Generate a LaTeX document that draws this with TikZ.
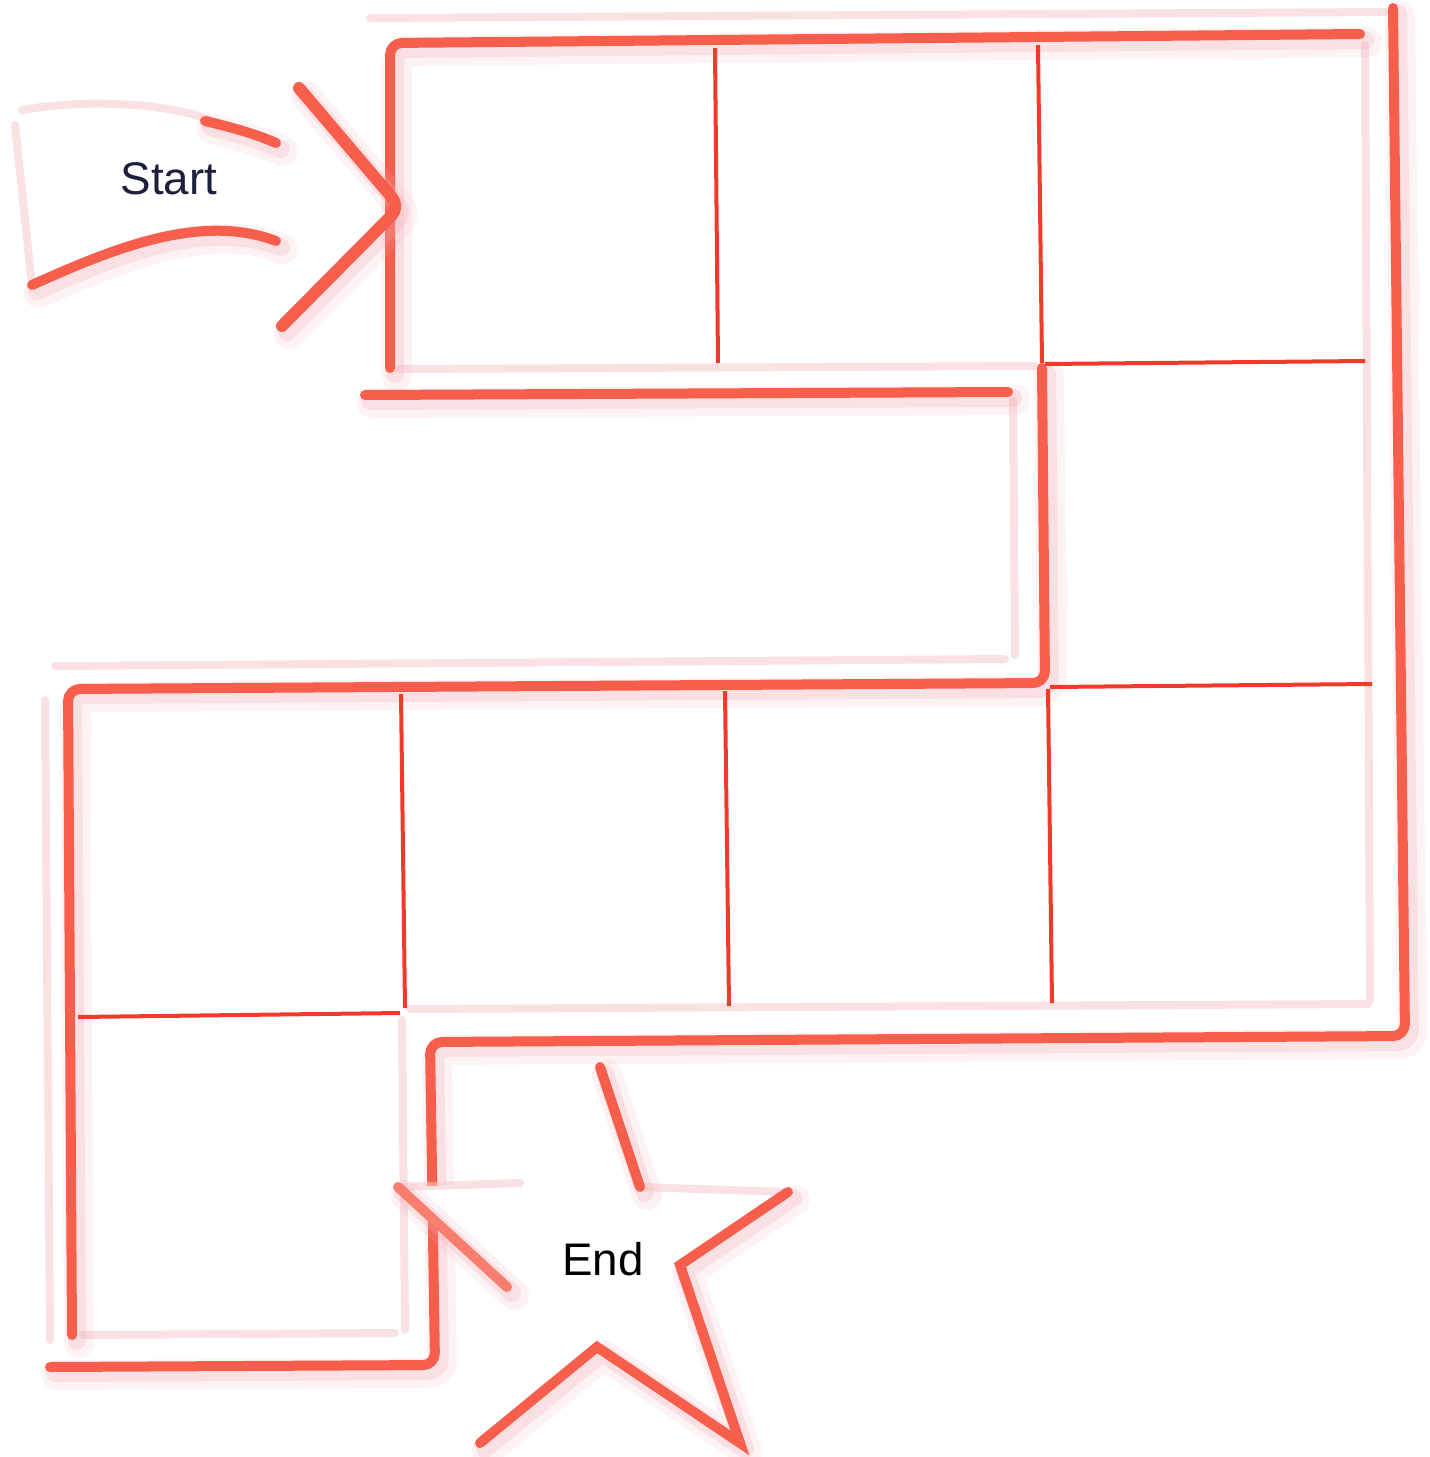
\documentclass[tikz,border=0pt]{standalone}
\usepackage{fontspec}
\setmainfont{Liberation Sans}
\definecolor{rimred}{RGB}{247,94,76}
\definecolor{rimshade}{RGB}{244,170,178}
\definecolor{splitred}{RGB}{240,58,42}
\definecolor{glintpink}{RGB}{246,200,206}
\definecolor{startink}{RGB}{28,32,60}

\begin{document}
\begin{tikzpicture}[x=0.01cm, y=-0.01cm, line cap=round, line join=round,
    rim/.style={draw=rimred, line width=0.1cm, rounded corners=0.12cm,
      preaction={draw=rimshade, line width=0.3cm, opacity=0.15, transform canvas={shift={(7,8)}}},
      preaction={draw=rimshade, line width=0.18cm, opacity=0.25, transform canvas={shift={(5,6)}}}},
    split/.style={draw=splitred, line width=0.04cm, line cap=butt},
    glint/.style={draw=glintpink, line width=0.08cm, opacity=0.55},
    tag/.style={font=\fontsize{13}{15}\selectfont, inner sep=0pt}]
  \useasboundingbox (0,0) rectangle (1429,1457);

  % faint inner edges of the track
  \draw[glint] (370,18) -- (1385,12)
    (398,369) -- (1035,366)
    (1365,45) -- (1370,1000)
    (1013,400) -- (1015,655)
    (55,666) -- (1005,659)
    (45,700) -- (50,1340)
    (410,1009) -- (1368,1004)
    (402,1020) -- (405,1330)
    (82,1335) -- (395,1333);

  % thick outer rims
  \draw[rim] (390,368) -- (390,43) -- (1360,34);
  \draw[rim] (365,395) -- (1008,392);
  \draw[rim] (1393,8) -- (1405,1036) -- (430,1042) -- (435,1365) -- (50,1367);
  \draw[rim] (1042,368) -- (1045,683) -- (68,689) -- (72,1335);

  % dividers between the squares
  \draw[split] (715,48) -- (718,363)
    (1038,45) -- (1042,363)
    (1045,364) -- (1365,361)
    (1050,687) -- (1372,684)
    (401,694) -- (405,1008)
    (725,691) -- (729,1006)
    (1048,689) -- (1052,1003)
    (78,1017) -- (400,1013);

  % start banner with its arrow head
  \draw[glint] (15,125) -- (32,285);
  \draw[glint] (22,110) .. controls (90,98) and (170,104) .. (210,120);
  \draw[rim] (205,121) .. controls (235,128) and (258,135) .. (276,143);
  \draw[rim] (32,285) .. controls (110,250) and (200,212) .. (276,241);
  \draw[rim, line width=0.12cm] (299,88) -- (400,207) -- (282,326);
  \node[tag, text=startink] (startlabel) at (169,179) {Start};

  % end star
  \coordinate (o1) at (600,1067);
  \coordinate (i1) at (640,1187);
  \coordinate (o2) at (788,1192);
  \coordinate (i2) at (680,1265);
  \coordinate (o3) at (740,1443);
  \coordinate (i3) at (597,1347);
  \coordinate (o4) at (480,1443);
  \coordinate (i4) at (507,1287);
  \coordinate (o5) at (398,1187);
  \coordinate (i5) at (520,1183);
  \fill[white] (o1) -- (i1) -- (o2) -- (i2) -- (o3) -- (i3) -- (o4) -- (i4) -- (o5) -- (i5) -- cycle;
  \draw[glint] (i1) -- (o2) (o5) -- (i5);
  \draw[rim, rounded corners=0pt, line join=miter] (o1) -- (i1);
  \draw[rim, rounded corners=0pt, line join=miter] (o2) -- (i2) -- (o3) -- (i3) -- (o4);
  \draw[rim, rounded corners=0pt, line join=miter, draw=rimred!80] (i4) -- (o5);
  \node[tag, text=black] (endlabel) at (603,1259) {End};
\end{tikzpicture}
\end{document}
